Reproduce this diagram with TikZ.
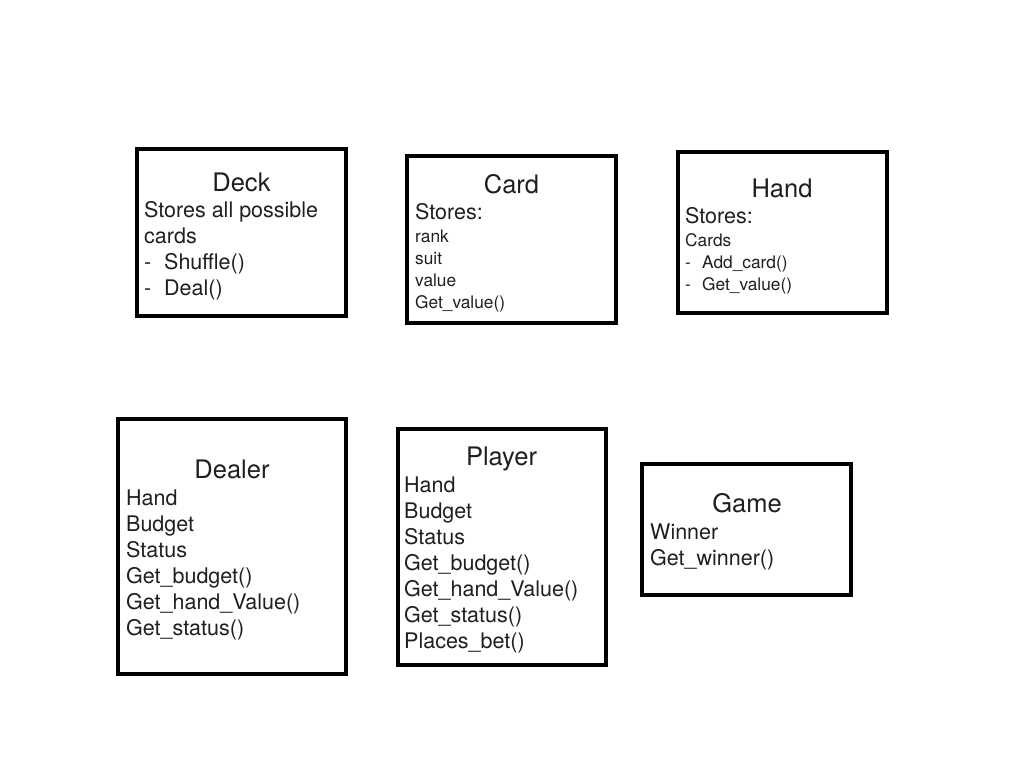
\documentclass[tikz,border=0pt]{standalone}
\usepackage{fontspec}
\setmainfont{TeX Gyre Heros}
\begin{document}
\begin{tikzpicture}[x=1pt,y=-1pt,
  classbox/.style={draw=black,line width=4pt,fill=white,inner sep=0pt},
  title/.style={anchor=base,inner sep=0pt,text=black!88,font=\fontsize{25.5}{30}\selectfont},
  body/.style={anchor=base west,inner sep=0pt,text=black!88,font=\fontsize{21.5}{26}\selectfont},
  small/.style={anchor=base west,inner sep=0pt,text=black!88,font=\fontsize{17.3}{22}\selectfont}]
\useasboundingbox[fill=white] (0,0) rectangle (1024,768);
\newcommand{\dashitem}[2]{\makebox[#1][l]{-}#2}

% Deck
\node[classbox,minimum width=209pt,minimum height=167pt] (deck) at (241.5,232.5) {};
\node[title] (deckT) at (241.5,191) {Deck};
\node[body] (deck1) at (144,217) {Stores all possible};
\node[body] (deck2) at (144,243) {cards};
\node[body] (deck3) at (144,269) {\dashitem{20pt}{Shuffle()}};
\node[body] (deck4) at (144,295) {\dashitem{20pt}{Deal()}};

% Card
\node[classbox,minimum width=209pt,minimum height=167pt] (card) at (511.5,239.5) {};
\node[title] (cardT) at (511.5,193) {Card};
\node[body] (card1) at (415,219) {Stores:};
\node[small] (card2) at (415,242) {rank};
\node[small] (card3) at (415,264) {suit};
\node[small] (card4) at (415,286) {value};
\node[small] (card5) at (415,308) {Get\_value()};

% Hand
\node[classbox,minimum width=209pt,minimum height=161pt] (hand) at (782.5,232.5) {};
\node[title] (handT) at (782,197) {Hand};
\node[body] (hand1) at (685,223) {Stores:};
\node[small] (hand2) at (685,246) {Cards};
\node[small] (hand3) at (685,268) {\dashitem{17pt}{Add\_card()}};
\node[small] (hand4) at (685,290) {\dashitem{17pt}{Get\_value()}};

% Dealer
\node[classbox,minimum width=228pt,minimum height=255pt] (dealer) at (232,546.5) {};
\node[title] (dealerT) at (232,478) {Dealer};
\node[body] (dealer1) at (126,505) {Hand};
\node[body] (dealer2) at (126,531) {Budget};
\node[body] (dealer3) at (126,557) {Status};
\node[body] (dealer4) at (126,583) {Get\_budget()};
\node[body] (dealer5) at (126,609) {Get\_hand\_Value()};
\node[body] (dealer6) at (126,635) {Get\_status()};

% Player
\node[classbox,minimum width=208pt,minimum height=236pt] (player) at (502,547) {};
\node[title] (playerT) at (501.5,465) {Player};
\node[body] (player1) at (404,492) {Hand};
\node[body] (player2) at (404,518) {Budget};
\node[body] (player3) at (404,544) {Status};
\node[body] (player4) at (404,570) {Get\_budget()};
\node[body] (player5) at (404,596) {Get\_hand\_Value()};
\node[body] (player6) at (404,622) {Get\_status()};
\node[body] (player7) at (404,648) {Places\_bet()};

% Game
\node[classbox,minimum width=209pt,minimum height=131pt] (game) at (746.5,529.5) {};
\node[title] (gameT) at (747,512) {Game};
\node[body] (game1) at (650,539) {Winner};
\node[body] (game2) at (650,565) {Get\_winner()};
\end{tikzpicture}
\end{document}
